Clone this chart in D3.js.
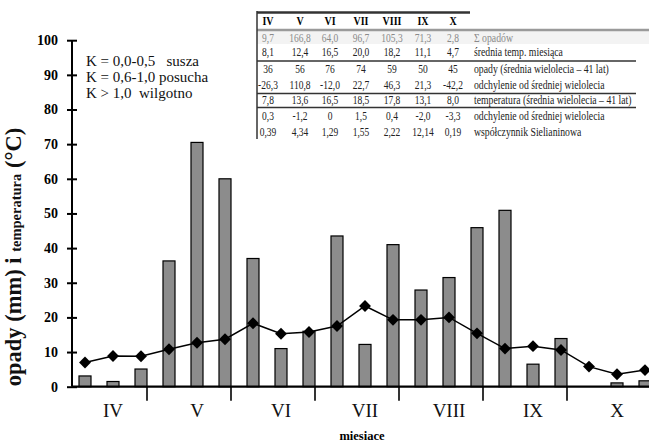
<!DOCTYPE html>
<html>
<head>
<meta charset="utf-8">
<script src="https://cdn.jsdelivr.net/npm/d3@7/dist/d3.min.js"></script>
<style>
  html, body { margin: 0; padding: 0; background: #fff; }
  svg { display: block; }
  text { font-family: "Liberation Serif", "DejaVu Serif", serif; }
</style>
</head>
<body>
<svg id="chart" width="649" height="442"></svg>
<script>
// Decades (3 per month, April–October)
const months = ["IV", "V", "VI", "VII", "VIII", "IX", "X"];
const decades = d3.range(21);

// Precipitation per decade (mm)
const precip = [3.1, 1.5, 5.1, 36.3, 70.5, 60.0, 37.0, 11.0, 16.0, 43.5, 12.2, 41.0,
                27.9, 31.5, 45.9, 50.9, 6.5, 13.9, 0, 1.1, 1.7];
// Mean air temperature per decade (°C)
const temp = [7.0, 8.85, 8.8, 10.8, 12.7, 13.7, 18.3, 15.3, 15.8, 17.5, 23.3, 19.3,
              19.3, 20.0, 15.4, 11.0, 11.7, 10.6, 5.8, 3.6, 4.8];

const yTicks = [0, 10, 20, 30, 40, 50, 60, 70, 80, 90, 100];

// Summary table
const tableHeader = ["IV", "V", "VI", "VII", "VIII", "IX", "X"];
const rowSum = ["9,7", "166,8", "64,0", "96,7", "105,3", "71,3", "2,8"];
const rowTempMean = ["8,1", "12,4", "16,5", "20,0", "18,2", "11,1", "4,7"];
const rowPrecipNorm = ["36", "56", "76", "74", "59", "50", "45"];
const rowPrecipDev = ["-26,3", "110,8", "-12,0", "22,7", "46,3", "21,3", "-42,2"];
const rowTempNorm = ["7,8", "13,6", "16,5", "18,5", "17,8", "13,1", "8,0"];
const rowTempDev = ["0,3", "-1,2", "0", "1,5", "0,4", "-2,0", "-3,3"];
const rowK = ["0,39", "4,34", "1,29", "1,55", "2,22", "12,14", "0,19"];
const rowLabels = ["Σ opadów", "średnia temp. miesiąca", "opady (średnia wielolecia – 41 lat)",
  "odchylenie od średniej wielolecia", "temperatura (średnia wielolecia – 41 lat)",
  "odchylenie od średniej wielolecia", "współczynnik Sielianinowa"];

const legendLines = ["K = 0,0-0,5   susza", "K = 0,6-1,0 posucha", "K > 1,0  wilgotno"];

const svg = d3.select("#chart");

const x = d3.scaleBand().domain(decades).range([71, 659]).paddingInner(0).paddingOuter(0);
const y = d3.scaleLinear().domain([0, 100]).range([386.7, 40.2]);
const barW = 12;
const cx = i => x(i) + x.bandwidth() / 2;

// Bars
svg.append("g").selectAll("rect").data(precip).join("rect")
  .attr("x", (d, i) => cx(i) - barW / 2)
  .attr("y", d => y(d))
  .attr("width", barW)
  .attr("height", d => y(0) - y(d))
  .attr("fill", "#8c8c8c")
  .attr("stroke", "#000")
  .attr("stroke-width", 1.2);

// Temperature line
const line = d3.line().x((d, i) => cx(i)).y(d => y(d));
svg.append("path").datum(temp)
  .attr("d", line)
  .attr("fill", "none")
  .attr("stroke", "#000")
  .attr("stroke-width", 1.5);
svg.append("g").selectAll("path").data(temp).join("path")
  .attr("d", d3.symbol(d3.symbolDiamond2, 90))
  .attr("transform", (d, i) => `translate(${cx(i)},${y(d)})`)
  .attr("fill", "#000");

// Y axis
const yAxis = svg.append("g")
  .attr("transform", "translate(72,0)")
  .call(d3.axisLeft(y).tickValues(yTicks).tickSize(5).tickPadding(9).tickFormat(d3.format("d")));
yAxis.select(".domain").attr("stroke", "#000").attr("stroke-width", 2).attr("d", `M0,${y(100)}V${y(0)}`);
yAxis.selectAll(".tick line").attr("x1", -5).attr("x2", 5).attr("stroke-width", 2);
yAxis.selectAll(".tick text")
  .attr("font-family", "Liberation Serif, serif")
  .attr("font-weight", "bold")
  .attr("font-size", 14)
  .attr("fill", "#000");

// X axis line
svg.append("line")
  .attr("x1", 72).attr("x2", 649)
  .attr("y1", y(0)).attr("y2", y(0))
  .attr("stroke", "#000").attr("stroke-width", 2.2);

// Month separators and labels
svg.append("g").selectAll("line").data(months.slice(0, 6)).join("line")
  .attr("x1", (d, i) => cx(i * 3 + 2) + barW / 2)
  .attr("x2", (d, i) => cx(i * 3 + 2) + barW / 2)
  .attr("y1", y(0)).attr("y2", y(0) + 14)
  .attr("stroke", "#000").attr("stroke-width", 1.6);
svg.append("g").selectAll("text").data(months).join("text")
  .attr("x", (d, i) => cx(i * 3 + 1))
  .attr("y", 417)
  .attr("text-anchor", "middle")
  .attr("font-size", 19)
  .attr("fill", "#111")
  .text(d => d);

svg.append("text")
  .attr("x", 362).attr("y", 440)
  .attr("text-anchor", "middle")
  .attr("font-weight", "bold")
  .attr("font-size", 12.5)
  .text("miesiace");

// Y axis title
const yTitle = svg.append("text")
  .attr("transform", "translate(21,257) rotate(-90)")
  .attr("text-anchor", "middle")
  .attr("font-weight", "bold")
  .attr("fill", "#111");
yTitle.append("tspan").attr("font-size", 22.5).text("opady (mm) i ");
yTitle.append("tspan").attr("font-size", 14.5).text("temperatura");
yTitle.append("tspan").attr("font-size", 22.5).text(" (°C)");

// Sielianinov coefficient legend
svg.append("g").selectAll("text").data(legendLines).join("text")
  .attr("x", 86)
  .attr("y", (d, i) => 66 + i * 16)
  .attr("font-size", 15)
  .attr("fill", "#111")
  .attr("xml:space", "preserve")
  .style("white-space", "pre")
  .text(d => d);

// Summary table
const colX = [268, 300, 330, 361, 392, 423, 453];
const rowCenters = [38, 52, 69, 85, 100, 116, 132];
const tbl = svg.append("g");

tbl.append("rect").attr("x", 257).attr("y", 30).attr("width", 392).attr("height", 14)
  .attr("fill", "#f3f3f3");
tbl.append("line").attr("x1", 257).attr("x2", 470).attr("y1", 12.5).attr("y2", 12.5)
  .attr("stroke", "#333").attr("stroke-width", 2.5);
tbl.append("line").attr("x1", 257).attr("x2", 649).attr("y1", 30).attr("y2", 30)
  .attr("stroke", "#9a9a9a").attr("stroke-width", 2.5);
tbl.append("line").attr("x1", 257).attr("x2", 257).attr("y1", 11).attr("y2", 139)
  .attr("stroke", "#333").attr("stroke-width", 1.5);
[61, 93.5, 107.5].forEach(ly => {
  tbl.append("line").attr("x1", 257).attr("x2", 636).attr("y1", ly).attr("y2", ly)
    .attr("stroke", "#333").attr("stroke-width", 1.5);
});

tbl.append("g").selectAll("text").data(tableHeader).join("text")
  .attr("text-anchor", "middle")
  .attr("font-weight", "bold")
  .attr("font-size", 12.5)
  .attr("transform", (d, i) => `translate(${colX[i]},24.5) scale(0.8,1)`)
  .text(d => d);

const rows = [rowSum, rowTempMean, rowPrecipNorm, rowPrecipDev, rowTempNorm, rowTempDev, rowK];
rows.forEach((r, ri) => {
  const base = rowCenters[ri] + 4;
  const g = tbl.append("g").attr("fill", ri === 0 ? "#8a8a8a" : "#222");
  g.selectAll("text").data(r).join("text")
    .attr("text-anchor", "middle")
    .attr("font-size", 12.5)
    .attr("transform", (d, i) => `translate(${colX[i]},${base}) scale(0.76,1)`)
    .text(d => d);
  g.append("text")
    .attr("transform", `translate(474,${base}) scale(0.78,1)`)
    .attr("font-size", 12.5)
    .text(rowLabels[ri]);
});
</script>
</body>
</html>
